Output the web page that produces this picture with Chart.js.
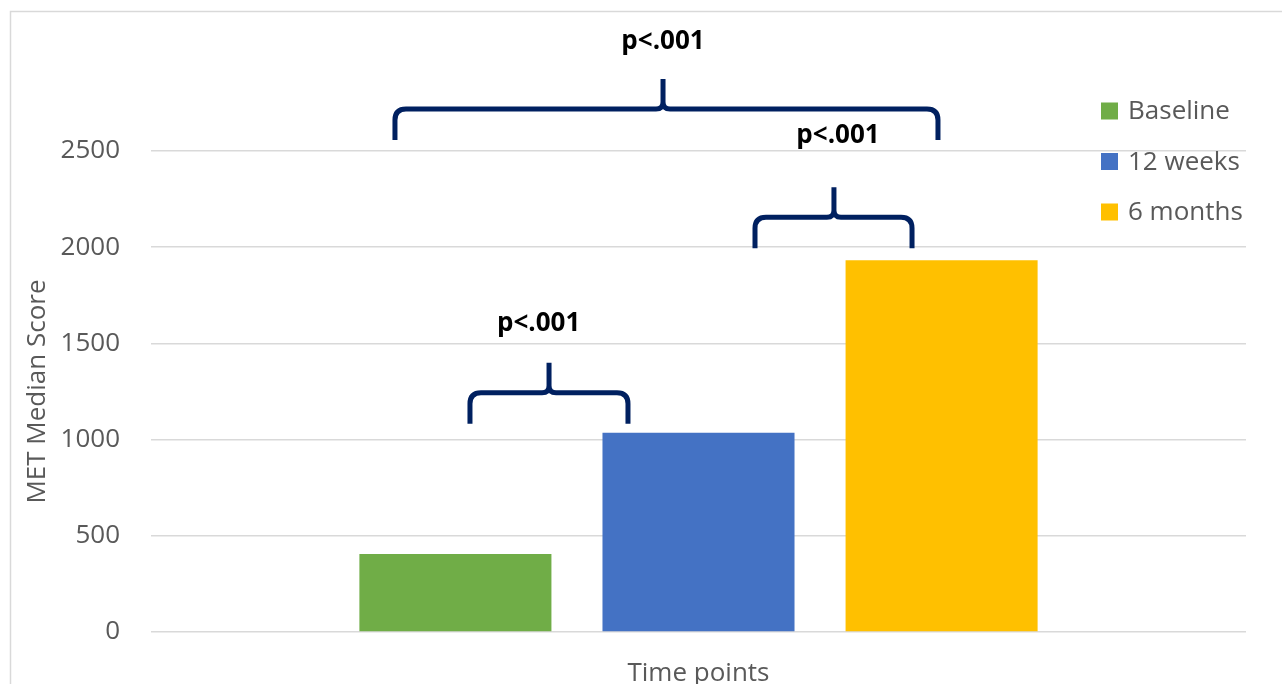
<!DOCTYPE html>
<html>
<head>
<meta charset="utf-8">
<script src="https://cdn.jsdelivr.net/npm/chart.js@4"></script>
<style>
  html, body { margin: 0; padding: 0; background: #fff; }
  #wrap { width: 1282px; height: 684px; }
</style>
</head>
<body>
<div id="wrap"><canvas id="metChart" width="1282" height="684"></canvas></div>
<script>
// data
const categories = [''];
const seriesNames = ['Baseline', '12 weeks', '6 months'];
const seriesValues = [[406], [1036], [1932]];
const seriesColors = ['#70ad47', '#4472c4', '#ffc000'];
const yTicks = [0, 500, 1000, 1500, 2000, 2500];
const pLabel = 'p<.001';

const FONT = '"Open Sans", sans-serif';
const GREY_TEXT = '#595959';
const NAVY = '#002060';

// significance brackets: x as share of plot width, y in data units
const brackets = [
  { x0: 0.2913, x1: 0.4356, mid: 0.3635, textX: 0.3540, legBottom: 1083, textY: 1604 },
  { x0: 0.5516, x1: 0.6950, mid: 0.6237, textX: 0.6274, legBottom: 1995, textY: 2578 },
  { x0: 0.2228, x1: 0.7187, mid: 0.4676, textX: 0.4676, legBottom: 2557, textY: 3068 }
];

function drawBracket(ctx, x0, x1, xm, yb) {
  const yh = yb - 31, yt = yb - 61, r = 11, rc = 7;
  ctx.beginPath();
  ctx.moveTo(x0, yb);
  ctx.lineTo(x0, yh + r);
  ctx.quadraticCurveTo(x0, yh, x0 + r, yh);
  ctx.lineTo(xm - rc, yh);
  ctx.quadraticCurveTo(xm, yh, xm, yh - rc);
  ctx.lineTo(xm, yt);
  ctx.moveTo(xm, yh - rc);
  ctx.quadraticCurveTo(xm, yh, xm + rc, yh);
  ctx.lineTo(x1 - r, yh);
  ctx.quadraticCurveTo(x1, yh, x1, yh + r);
  ctx.lineTo(x1, yb);
  ctx.stroke();
}

const extras = {
  id: 'extras',
  beforeDraw(chart) {
    const ctx = chart.ctx;
    ctx.save();
    ctx.fillStyle = '#fff';
    ctx.fillRect(0, 0, chart.width, chart.height);
    // outer frame like the Excel chart border
    ctx.strokeStyle = '#d9d9d9';
    ctx.lineWidth = 1.5;
    ctx.beginPath();
    ctx.moveTo(10.5, chart.height + 2);
    ctx.lineTo(10.5, 11.5);
    ctx.lineTo(chart.width + 2, 11.5);
    ctx.stroke();
    ctx.restore();
  },
  afterDraw(chart) {
    const ctx = chart.ctx;
    const area = chart.chartArea;
    const y = chart.scales.y;
    const w = area.right - area.left;
    ctx.save();
    // brackets and p-values
    ctx.strokeStyle = NAVY;
    ctx.lineWidth = 5;
    ctx.lineJoin = 'round';
    ctx.fillStyle = '#000';
    ctx.font = 'bold 26px ' + FONT;
    ctx.textAlign = 'center';
    ctx.textBaseline = 'middle';
    brackets.forEach(b => {
      drawBracket(ctx, area.left + b.x0 * w, area.left + b.x1 * w,
        area.left + b.mid * w, y.getPixelForValue(b.legBottom));
      ctx.fillText(pLabel, area.left + b.textX * w, y.getPixelForValue(b.textY));
    });
    // legend inside the plot, top right
    ctx.font = '26px ' + FONT;
    ctx.textAlign = 'left';
    const lx = area.right - 145;
    seriesNames.forEach((name, i) => {
      const ly = area.top - 40 + i * 50.5;
      ctx.fillStyle = seriesColors[i];
      ctx.fillRect(lx, ly - 8.5, 17, 17);
      ctx.fillStyle = GREY_TEXT;
      ctx.fillText(name, lx + 27, ly + 1);
    });
    ctx.restore();
  }
};

const ctx = document.getElementById('metChart').getContext('2d');
const metChart = new Chart(ctx, {
  type: 'bar',
  data: {
    labels: categories,
    datasets: seriesNames.map((name, i) => ({
      label: name,
      data: seriesValues[i],
      backgroundColor: seriesColors[i],
      categoryPercentage: 0.666,
      barPercentage: 0.79
    }))
  },
  options: {
    responsive: false,
    animation: false,
    layout: { padding: { top: 151, right: 36, left: 22, bottom: -3 } },
    plugins: {
      legend: { display: false },
      tooltip: { enabled: false }
    },
    scales: {
      x: {
        grid: { display: false },
        border: { display: false },
        ticks: { display: false },
        title: {
          display: true,
          text: 'Time points',
          color: GREY_TEXT,
          font: { family: FONT, size: 26, lineHeight: 1 },
          padding: { top: 21, bottom: 0 }
        }
      },
      y: {
        min: 0,
        max: 2500,
        afterBuildTicks: axis => { axis.ticks = yTicks.map(v => ({ value: v })); },
        afterFit: axis => { axis.width = 129; },
        grid: { color: '#d9d9d9', lineWidth: 1.5, drawTicks: false },
        border: { display: false },
        ticks: {
          color: GREY_TEXT,
          padding: 31,
          font: { family: FONT, size: 26 },
          callback: v => String(v)
        },
        title: {
          display: true,
          text: 'MET Median Score',
          color: GREY_TEXT,
          font: { family: FONT, size: 26, lineHeight: 1.2 },
          padding: { top: 0, bottom: 4 }
        }
      }
    }
  },
  plugins: [extras]
});
</script>
</body>
</html>
